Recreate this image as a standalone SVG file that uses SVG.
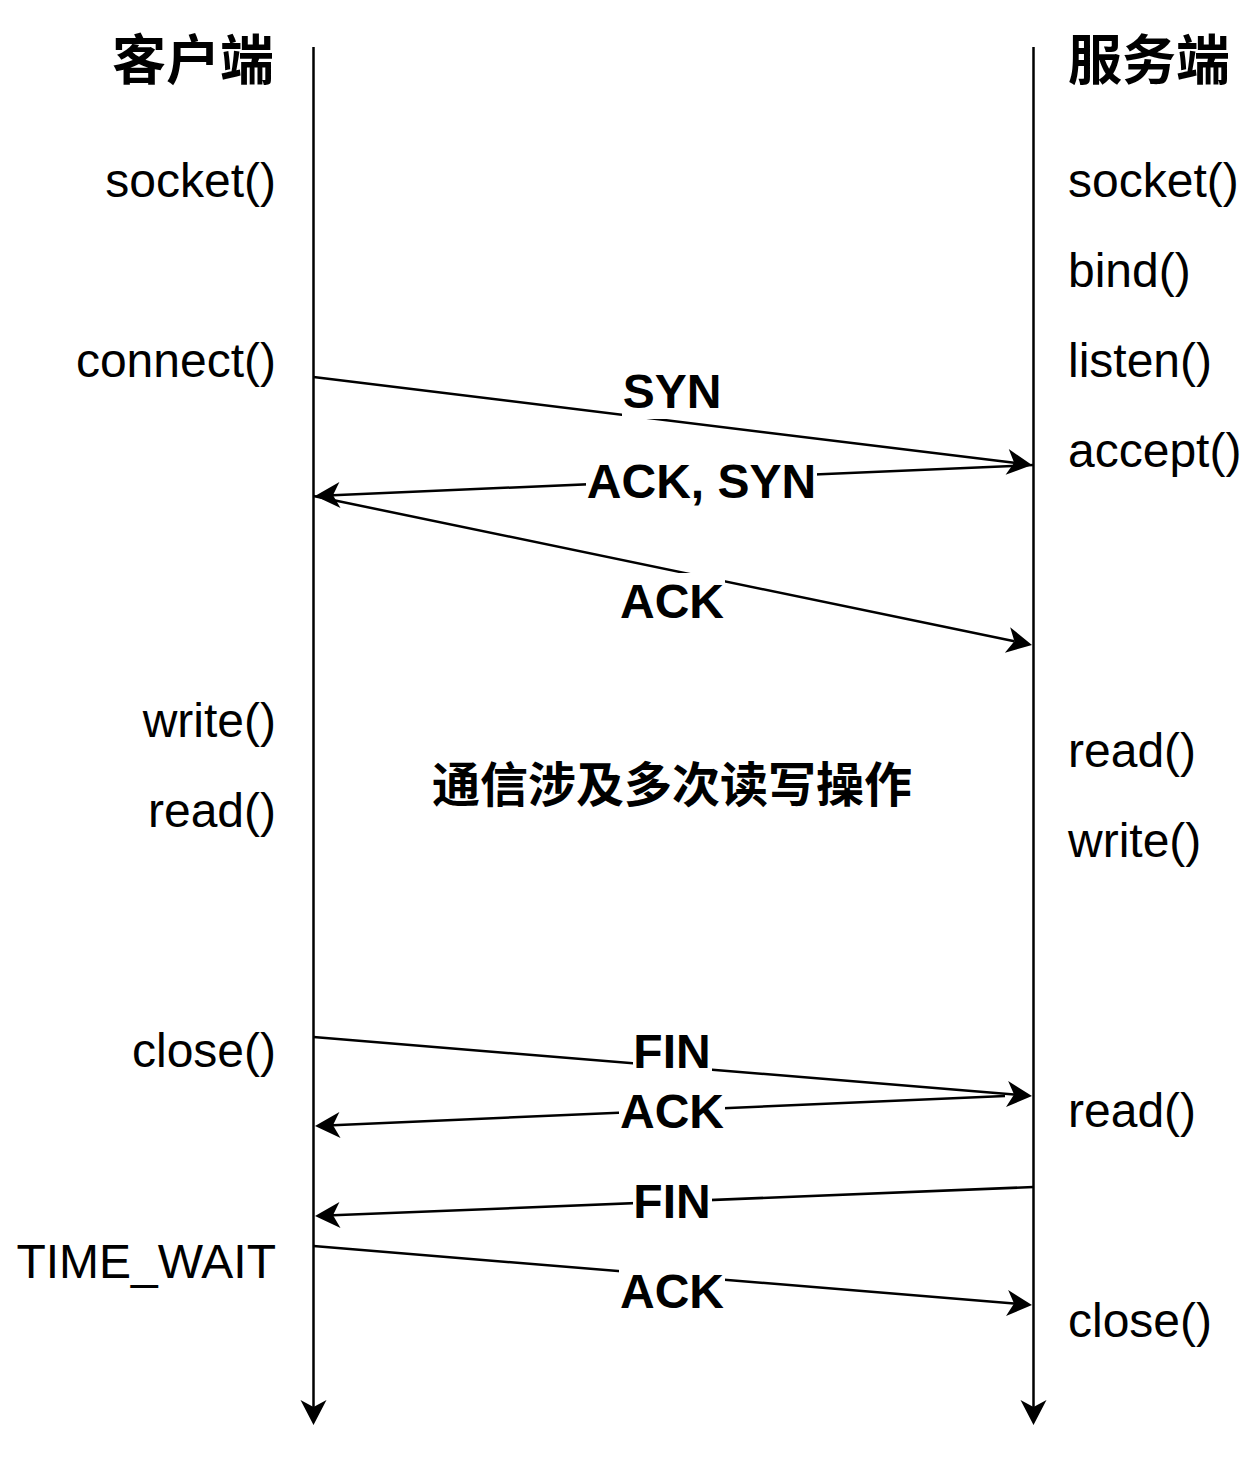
<svg xmlns="http://www.w3.org/2000/svg" width="1260" height="1467" viewBox="0 0 1260 1467">
<style>
.t{font-family:"Liberation Sans",Arial,sans-serif;font-size:48px;fill:#000}
.r{text-anchor:end}
.lb{font-family:"Liberation Sans",Arial,sans-serif;font-size:48px;font-weight:bold;text-anchor:middle;fill:#000}
.cjk{font-family:"Liberation Sans","Noto Sans CJK SC",sans-serif;font-weight:bold;fill:#000}
.ln{stroke:#000;stroke-width:2.5;fill:none;marker-end:url(#arr)}
.bg{fill:#fff}
</style>
<defs>
<marker id="arr" markerUnits="userSpaceOnUse" viewBox="-8 -14 27 28" refX="0" refY="0" markerWidth="27" markerHeight="28" orient="auto">
<path d="M18,0 L-7,-13 L0,0 L-7,13 Z" fill="#000"/>
</marker>
</defs>
<rect x="0" y="0" width="1260" height="1467" fill="#fff"/>
<g id="client-header"><text class="cjk r" x="274" y="80" font-size="54" text-anchor="end">客户端</text></g>
<g id="server-header"><text class="cjk" x="1068" y="80" font-size="54">服务端</text></g>
<g id="client-labels">
<text class="t r" x="276" y="197">socket()</text>
<text class="t r" x="276" y="377">connect()</text>
<text class="t r" x="276" y="737">write()</text>
<text class="t r" x="276" y="827">read()</text>
<text class="t r" x="276" y="1067">close()</text>
<text class="t r" x="276" y="1278">TIME_WAIT</text>
</g>
<g id="server-labels">
<text class="t" x="1068" y="197">socket()</text>
<text class="t" x="1068" y="287">bind()</text>
<text class="t" x="1068" y="377">listen()</text>
<text class="t" x="1068" y="467">accept()</text>
<text class="t" x="1068" y="767">read()</text>
<text class="t" x="1068" y="857">write()</text>
<text class="t" x="1068" y="1127">read()</text>
<text class="t" x="1068" y="1337">close()</text>
</g>
<g id="middle-note"><text class="cjk" x="672" y="802" font-size="48" text-anchor="middle">通信涉及多次读写操作</text></g>
<g id="connectors">
<line class="ln" x1="313.5" y1="47" x2="313.5" y2="1407"/>
<line class="ln" x1="1033.5" y1="47" x2="1033.5" y2="1407"/>
<line class="ln" x1="313.5" y1="377" x2="1014.13" y2="462.81"/>
<line class="ln" x1="1033.5" y1="465" x2="332.98" y2="495.22"/>
<line class="ln" x1="313.5" y1="496" x2="1014.38" y2="641.34"/>
<line class="ln" x1="313.5" y1="1037" x2="1014.06" y2="1094.53"/>
<line class="ln" x1="1005" y1="1096" x2="332.98" y2="1125.22"/>
<line class="ln" x1="1033.5" y1="1187" x2="332.99" y2="1215.27"/>
<line class="ln" x1="313.5" y1="1246" x2="1014.06" y2="1303.53"/>
<rect class="bg" x="622" y="363" width="100" height="56"/>
<text class="lb" x="672" y="408">SYN</text>
<rect class="bg" x="586" y="453" width="231" height="56"/>
<text class="lb" x="701.5" y="498">ACK, SYN</text>
<rect class="bg" x="619" y="573" width="106" height="56"/>
<text class="lb" x="672" y="618">ACK</text>
<rect class="bg" x="633" y="1023" width="79" height="56"/>
<text class="lb" x="672" y="1068">FIN</text>
<rect class="bg" x="619" y="1083" width="106" height="56"/>
<text class="lb" x="672" y="1128">ACK</text>
<rect class="bg" x="633" y="1173" width="79" height="56"/>
<text class="lb" x="672" y="1218">FIN</text>
<rect class="bg" x="619" y="1263" width="106" height="56"/>
<text class="lb" x="672" y="1308">ACK</text>
</g>
</svg>
